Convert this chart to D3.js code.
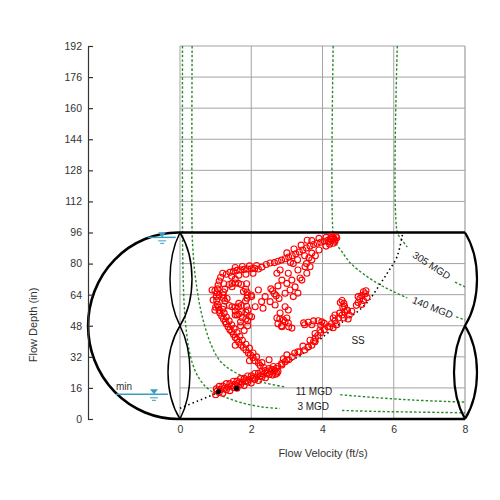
<!DOCTYPE html>
<html>
<head>
<meta charset="utf-8">
<script src="https://cdn.jsdelivr.net/npm/d3@7"></script>
<style>
  body { margin: 0; background: #fff; }
  text { font-family: "Liberation Sans", Arial, sans-serif; }
</style>
</head>
<body>
<div id="chart"></div>
<script>
const xTicks = [0, 2, 4, 6, 8];
const yTicks = [0, 16, 32, 48, 64, 80, 96, 112, 128, 144, 160, 176, 192];

// iso-flow curves [velocity ft/s, depth in], null = gap for the label
const mgd3 = [[0.07, 192], [0.07, 96], [0.08, 80], [0.1, 66], [0.13, 55], [0.18, 45], [0.25, 36],
  [0.36, 28], [0.5, 22], [0.7, 17], [0.95, 13.5], [1.26, 11.3], [1.7, 8.5], [2.3, 6.2], [2.8, 5.4],
  null, [4.55, 4.4], [5.5, 3.9], [6.5, 3.6], [7.4, 3.35], [8, 3.2]];
const mgd11 = [[0.34, 192], [0.34, 96], [0.36, 88], [0.4, 78], [0.47, 68], [0.56, 58], [0.7, 47.5],
  [0.88, 38], [1.12, 30], [1.45, 25], [1.85, 21.5], [2.4, 18.5], [2.95, 16.5],
  null, [4.5, 12.5], [5.5, 11], [6.5, 9.8], [7.5, 9], [8, 8.7]];
const mgd140 = [[4.3, 192], [4.3, 95], [4.36, 91], [4.55, 86], [4.78, 80.3], [5.2, 74], [5.62, 69],
  [6.0, 65.5], [6.38, 62.3], null, [7.75, 52.6], [8, 51]];
const mgd305 = [[6.1, 192], [6.1, 96], [6.2, 93], [6.38, 88.5], null, [7.72, 70.5], [8, 68]];
const ssCurve = [[0, 5.5], [0.5, 9.3], [1.0, 13], [1.5, 16.6], [2.0, 20.2], [2.5, 24], [3.0, 29],
  [3.4, 33], [3.8, 39], [4.2, 45], [4.6, 50.5], [5.0, 55.5], [5.3, 61], [5.6, 69], [5.85, 76],
  [6.09, 83.5], [6.25, 95.5]];

// observed velocity / depth
const observed = [
  // low-flow band
  [1.05, 14.5], [1.15, 15.2], [1.25, 15.8], [1.35, 16.5], [1.45, 17.1], [1.55, 17.8], [1.65, 18.4],
  [1.75, 19.1], [1.85, 19.7], [1.95, 20.4], [2.05, 21.0], [2.15, 21.7], [2.25, 22.3], [2.35, 23.0],
  [2.45, 23.6], [2.55, 24.3], [2.65, 24.9],
  [1.10, 16.8], [1.30, 18.2], [1.50, 19.4], [1.70, 20.8], [1.90, 22.1], [2.10, 23.4], [2.30, 24.7],
  [2.50, 26.0], [2.62, 27.0],
  [1.00, 12.5], [1.20, 13.2], [1.40, 14.6], [1.60, 15.8], [1.80, 17.2], [2.00, 18.5], [2.20, 19.8],
  [2.40, 21.2], [2.60, 22.6], [2.72, 23.6], [2.7, 26], [2.75, 24.5], [2.6, 25.5],
  [1.1, 13.6], [1.3, 15.0], [1.5, 16.2], [1.7, 17.6], [1.9, 19.0], [2.1, 20.3], [2.3, 21.6], [2.5, 22.9],
  [1.2, 16.9], [1.4, 18.2], [1.6, 19.5], [1.8, 20.9], [2.0, 22.2], [2.2, 23.5], [2.4, 24.9], [2.57, 25.6],
  [1.02, 15.5], [2.68, 23.0],
  // rising column
  [2.35, 26.5], [2.25, 27.5], [2.2, 28.8], [2.1, 30], [2.05, 31.5], [1.98, 33], [1.92, 34], [1.85, 35.5],
  [1.78, 36.8], [1.72, 38], [1.65, 39.5], [1.6, 41], [1.55, 42], [1.5, 43.5], [1.45, 45], [1.4, 46],
  [1.35, 47.5], [1.3, 49], [1.27, 50], [1.22, 51.5], [1.17, 53], [1.12, 54.5], [1.1, 56], [1.08, 57.5],
  [2.3, 29], [2.15, 32], [2.05, 34], [1.95, 36.5], [1.85, 38.5], [1.75, 40.5], [1.68, 42.5], [1.6, 44.5],
  [1.52, 46.5], [1.45, 48.5], [1.38, 50.5], [1.3, 52.5], [1.24, 54.5], [1.2, 56.5],
  [1.95, 30], [2.5, 30.5], [1.55, 38], [1.8, 45.5], [1.9, 48], [1.7, 50], [1.85, 51.5], [1.95, 53],
  [1.6, 53.5], [1.65, 54], [1.75, 52], [1.85, 55], [1.9, 50.5], [1.7, 48],
  // left side and loop
  [1.05, 59], [1.03, 61], [1.02, 63], [1.03, 65], [1.05, 67], [1.07, 69], [1.1, 71], [1.14, 73],
  [1.2, 75], [0.98, 66], [0.93, 61.2], [0.9, 66.4], [1.0, 57.5], [0.98, 56],
  [1.89, 63.8], [1.84, 66.9], [1.72, 69.2], [1.55, 70.0], [1.38, 69.2], [1.26, 66.9], [1.21, 63.8],
  [1.26, 60.7], [1.38, 58.4], [1.55, 57.6], [1.72, 58.4], [1.84, 60.7],
  [2.0, 63.8], [1.87, 69.6], [1.55, 72.0], [1.23, 69.6], [1.1, 63.8], [1.23, 58.0], [1.55, 55.6], [1.87, 58.0],
  [1.78, 65.6], [1.46, 68.1], [1.32, 62.0], [1.65, 59.5],
  [1.88, 65.4], [1.64, 69.8], [1.46, 69.8], [1.22, 65.4], [1.22, 62.2], [1.46, 57.8], [1.64, 57.8], [1.88, 62.2],
  // top bar
  [1.3, 74.5], [1.4, 75.5], [1.5, 76], [1.6, 76.5], [1.7, 76.8], [1.8, 77], [1.9, 77.2], [2.0, 77.3],
  [2.1, 77.5], [2.2, 77.2], [1.45, 73.5], [1.65, 74], [1.85, 74.5], [2.05, 75], [1.55, 78], [1.75, 78.5],
  [1.95, 78.8], [2.15, 79], [2.3, 78.2], [2.42, 79.5], [2.53, 80.3], [2.65, 80.5], [2.75, 81.2],
  // upper band to full pipe
  [2.85, 81.8], [2.95, 82.5], [3.05, 83.4], [3.15, 84], [3.25, 85], [3.35, 86], [3.45, 87], [3.55, 88],
  [3.65, 89], [3.75, 89.8], [3.85, 90.5], [3.95, 91], [4.05, 91.5], [4.15, 92], [4.25, 92.5], [4.32, 93],
  [3.0, 85.5], [3.2, 87.5], [3.4, 89.5], [3.57, 92], [3.7, 91.8], [3.9, 93], [4.1, 93.5], [4.25, 94], [4.4, 93.3],
  [3.1, 80.5], [3.3, 82], [3.5, 84], [3.7, 85.4], [3.9, 87], [4.1, 89], [4.2, 90], [4.35, 91.5], [4.3, 90.5],
  [4.22, 92.8], [4.28, 93.6], [4.34, 92.2], [4.38, 93.8], [4.18, 91.2],
  [3.55, 80], [3.7, 82], [3.8, 84], [3.62, 83], [3.18, 80], [3.56, 75], [3.37, 72.6], [3.65, 78.4],
  // middle cluster
  [3.04, 75], [3.14, 71.5], [3.0, 69.8], [3.23, 68], [3.09, 66.4], [3.31, 76.7], [3.42, 71.5], [3.51, 78.4],
  [3.18, 63], [2.95, 64.7], [2.86, 71.5], [3.31, 64.8], [2.72, 75], [2.81, 76.7],
  [2.6, 66], [2.75, 68.5], [2.7, 63.5], [2.55, 67], [2.65, 64.5], [2.78, 62],
  [2.2, 66.4], [2.39, 63], [2.29, 60.4], [2.11, 57.8], [2.53, 60.4], [1.91, 56.1], [1.73, 55.2], [1.55, 53.5],
  [2.01, 52.6], [2.33, 57], [2.67, 58.7], [2.81, 54.6], [2.9, 51], [2.72, 52], [3.04, 49.4], [2.86, 47.5],
  [3.14, 46.8], [2.01, 63], [2.95, 57.8], [3.04, 56.1],
  [2.75, 49], [2.85, 48], [2.95, 50], [3.05, 47.5], [2.8, 51.5], [3.0, 52],
  // row to the right and second rise
  [3.47, 49.5], [3.6, 49.8], [3.75, 50.5], [3.88, 50.6], [3.98, 50], [4.05, 49.2], [3.5, 48.5], [3.7, 48.5],
  [3.95, 48.2], [4.21, 47.5],
  [3.95, 44.5], [4.05, 46], [4.15, 47.5], [4.25, 49], [4.35, 50.5], [4.45, 52], [4.55, 53.5], [4.62, 55],
  [4.7, 56], [4.6, 52], [4.48, 54.5], [4.75, 53.5], [4.82, 55.5], [4.3, 47], [4.4, 48.5],
  [4.55, 61], [4.6, 59.5], [4.57, 57.5], [4.68, 56], [4.5, 60], [4.62, 58], [4.72, 51.5], [4.3, 52], [4.35, 53.5],
  [5.0, 60], [5.05, 62], [5.1, 63.5], [5.15, 61], [5.2, 64.5], [5.25, 62.5], [5.1, 59], [5.0, 63], [5.22, 66],
  [4.95, 58.5], [5.15, 65.5],
  // lower diagonal along SS
  [2.75, 27], [2.85, 28.5], [2.95, 29.5], [3.05, 30.5], [3.15, 32], [3.22, 34], [3.35, 34.5], [3.5, 35.5],
  [3.6, 37], [3.7, 38], [3.75, 40], [3.8, 41.7], [3.87, 43], [2.9, 31], [3.0, 33], [3.45, 37.5], [3.65, 40.5],
  [3.79, 44], [3.93, 45.8], [3.31, 34.6], [3.6, 37.2], [3.79, 39.8], [2.86, 27.8], [3.0, 30.4]
];
const marked = [[1.08, 14.1], [1.59, 15.8]];

const width = 500, height = 500;
const x = d3.scaleLinear().domain([0, 8]).range([180, 465]);
const y = d3.scaleLinear().domain([0, 192]).range([419, 46]);

const svg = d3.select("#chart").append("svg")
  .attr("width", width)
  .attr("height", height);

// grid
svg.selectAll(".vgrid").data(xTicks).enter().append("line")
  .attr("x1", d => x(d)).attr("x2", d => x(d))
  .attr("y1", y(0)).attr("y2", y(192))
  .attr("stroke", d => d === 8 ? "#c4c4c4" : "#a3a3a3")
  .attr("stroke-width", d => d === 8 ? 2 : 1);
svg.selectAll(".hgrid").data(yTicks).enter().append("line")
  .attr("x1", x(0)).attr("x2", x(8))
  .attr("y1", d => y(d)).attr("y2", d => y(d))
  .attr("stroke", "#a3a3a3").attr("stroke-width", 1);

// curves
const line = d3.line()
  .defined(d => d !== null)
  .x(d => x(d[0]))
  .y(d => y(d[1]))
  .curve(d3.curveCatmullRom.alpha(0.5));

[mgd3, mgd11, mgd140, mgd305].forEach(c => {
  svg.append("path")
    .datum(c)
    .attr("fill", "none")
    .attr("stroke", "#2b8a2b")
    .attr("stroke-width", 1.4)
    .attr("stroke-dasharray", "2.5,2")
    .attr("d", line);
});

svg.append("path")
  .datum(ssCurve)
  .attr("fill", "none")
  .attr("stroke", "#000")
  .attr("stroke-width", 1.6)
  .attr("stroke-dasharray", "1.5,3")
  .attr("d", line);

// pipe outline
const pipe = svg.append("g").attr("fill", "none").attr("stroke", "#000");
const cx = x(-0.05), pTop = y(96), pMid = y(48), pBot = y(0);
const rx = cx - x(-2.58), ry = (pBot - pTop) / 2;
pipe.append("path")
  .attr("stroke-width", 2.6)
  .attr("d", `M${x(8)},${pTop}H${cx}A${rx},${ry} 0 0 0 ${cx},${pBot}H${x(8)}`);

const lens = (px, y0, y1, bulge) => {
  const k = bulge / 0.75, h = (y1 - y0) * 0.28;
  return `M${px},${y0}C${px + k},${y0 + h} ${px + k},${y1 - h} ${px},${y1}`;
};
pipe.append("path").attr("stroke-width", 1.5)
  .attr("d", lens(x(0), pTop, pMid, -10) + lens(x(0), pTop, pMid, 12) +
             lens(x(0), pMid, pBot, -12) + lens(x(0), pMid, pBot, 10));
pipe.append("path").attr("stroke-width", 2.2)
  .attr("d", lens(x(8), pTop, pMid, 12) + lens(x(8), pMid, pBot, -11) + lens(x(8), pMid, pBot, 12));

// water level symbols
function waterLevel(x0, x1, xt, depth) {
  const g = svg.append("g").attr("stroke", "#3a9cc3").attr("fill", "#3a9cc3");
  const py = y(depth), pt = x(xt);
  g.append("line").attr("x1", x(x0)).attr("x2", x(x1)).attr("y1", py).attr("y2", py).attr("stroke-width", 1.5);
  g.append("path").attr("stroke", "none").attr("d", `M${pt - 4},${py - 5}H${pt + 4}L${pt},${py}Z`);
  g.append("line").attr("x1", pt - 4).attr("x2", pt + 4).attr("y1", py + 3.5).attr("y2", py + 3.5).attr("stroke-width", 1);
  g.append("line").attr("x1", pt - 2).attr("x2", pt + 2).attr("y1", py + 6).attr("y2", py + 6).attr("stroke-width", 1);
}
waterLevel(-0.9, -0.12, -0.5, 93.5);
waterLevel(-1.8, -0.34, -0.73, 12.7);
svg.append("text")
  .attr("x", x(-1.8)).attr("y", y(15))
  .attr("font-size", "10px").attr("fill", "#333")
  .text("min");

// observations
svg.selectAll(".obs").data(observed).enter().append("circle")
  .attr("cx", d => x(d[0]))
  .attr("cy", d => y(d[1]))
  .attr("r", 3)
  .attr("fill", "none")
  .attr("stroke", "#ff0000")
  .attr("stroke-width", 1.1);

svg.selectAll(".mark").data(marked).enter().append("circle")
  .attr("cx", d => x(d[0]))
  .attr("cy", d => y(d[1]))
  .attr("r", 2.6)
  .attr("fill", "#000");

// curve labels
const labels = [
  { text: "11 MGD", v: 3.76, d: 13.6, rot: 0 },
  { text: "3 MGD", v: 3.74, d: 5.9, rot: 0 },
  { text: "SS", v: 5.0, d: 40, rot: 0 },
  { text: "140 MGD", v: 7.08, d: 57, rot: 22 },
  { text: "305 MGD", v: 7.05, d: 78.7, rot: 33 }
];
svg.selectAll(".clabel").data(labels).enter().append("text")
  .attr("text-anchor", "middle")
  .attr("dominant-baseline", "middle")
  .attr("font-size", "10px")
  .attr("fill", "#222")
  .attr("transform", d => `translate(${x(d.v)},${y(d.d)}) rotate(${d.rot})`)
  .text(d => d.text);

// axes
const yAxis = svg.append("g")
  .attr("transform", "translate(88,0)")
  .call(d3.axisLeft(y).tickValues(yTicks).tickSize(-5).tickSizeOuter(0).tickPadding(6));
yAxis.select(".domain").attr("stroke", "#333").attr("stroke-width", 1.2);
yAxis.selectAll(".tick line").attr("stroke", "#333").attr("stroke-width", 1.2);
yAxis.selectAll("text").attr("font-size", "10.5px").attr("fill", "#333")
  .attr("font-family", "Liberation Sans, Arial, sans-serif");

const xAxis = svg.append("g")
  .attr("transform", `translate(0,${y(0)})`)
  .call(d3.axisBottom(x).tickValues(xTicks).tickSize(0).tickPadding(7));
xAxis.select(".domain").remove();
xAxis.selectAll("text").attr("font-size", "10.5px").attr("fill", "#333")
  .attr("font-family", "Liberation Sans, Arial, sans-serif");

svg.append("text")
  .attr("x", 323).attr("y", 457)
  .attr("text-anchor", "middle")
  .attr("font-size", "11px").attr("fill", "#333")
  .text("Flow Velocity (ft/s)");

svg.append("text")
  .attr("transform", "translate(37,325) rotate(-90)")
  .attr("text-anchor", "middle")
  .attr("font-size", "11px").attr("fill", "#333")
  .text("Flow Depth (in)");
</script>
</body>
</html>
